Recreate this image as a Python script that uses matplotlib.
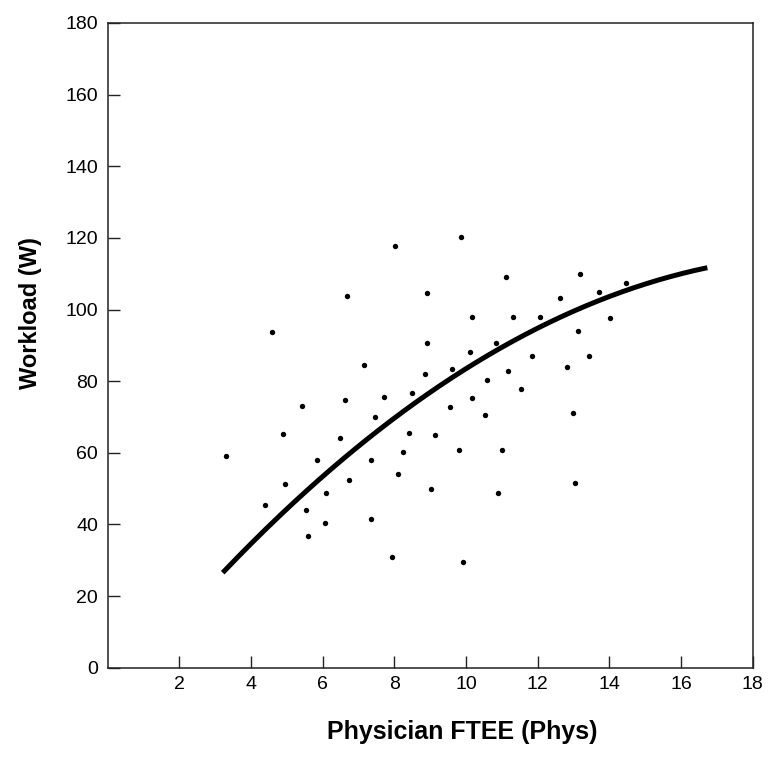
import matplotlib
matplotlib.use("Agg")
import matplotlib.pyplot as plt
import numpy as np

plt.rcParams['font.family'] = ['Liberation Sans', 'DejaVu Sans']

# Scatter data: Physician FTEE vs Workload
phys = [8.01, 6.69, 4.58, 7.15, 7.71, 6.62, 5.41, 7.46, 9.86, 11.12,
        13.18, 14.46, 8.91, 13.72, 12.63, 10.16, 11.30, 12.05, 14.02, 13.12,
        8.91, 10.83, 10.10, 11.85, 13.42, 8.85, 9.62, 11.18, 12.81, 10.59,
        11.54, 8.48, 10.17, 9.56, 10.53, 12.99, 4.88, 6.49, 3.31, 5.84,
        7.34, 8.11, 4.94, 6.73, 6.08, 4.40, 5.53, 6.07, 7.34, 5.59,
        7.94, 8.42, 9.14, 8.24, 9.80, 11.00, 9.02, 10.88, 13.05, 9.92]
workload = [117.7, 103.9, 93.8, 84.6, 75.5, 74.8, 73.1, 69.9, 120.2, 109.2,
            109.8, 107.4, 104.6, 104.9, 103.2, 97.8, 97.8, 97.8, 97.7, 94.1,
            90.7, 90.7, 88.2, 87.0, 87.0, 82.1, 83.4, 82.7, 83.9, 80.3,
            77.9, 76.8, 75.3, 72.9, 70.5, 71.0, 65.2, 64.0, 59.2, 57.9,
            57.9, 54.2, 51.3, 52.4, 48.9, 45.3, 44.1, 40.3, 41.6, 36.8,
            30.8, 65.6, 65.1, 60.3, 60.8, 60.8, 50.0, 48.7, 51.7, 29.4]

# Fitted curve (quadratic coefficients, highest power first) and its x-range
fit_coeffs = [-0.311, 12.5, -10.4]
fit_range = [3.21, 16.73]

x_ticks = [2, 4, 6, 8, 10, 12, 14, 16, 18]
y_ticks = [0, 20, 40, 60, 80, 100, 120, 140, 160, 180]

fig = plt.figure(figsize=(7.69, 7.61), dpi=100)
ax = fig.add_axes([0.140, 0.1226, 0.839, 0.8472])

ax.scatter(phys, workload, s=15, color='black', zorder=3, linewidths=0)
xf = np.linspace(fit_range[0], fit_range[1], 200)
ax.plot(xf, np.polyval(fit_coeffs, xf), color='black', lw=3.6,
        solid_capstyle='butt', zorder=4)

ax.set_xlim(0, 18)
ax.set_ylim(0, 180)
ax.set_xticks(x_ticks)
ax.set_yticks(y_ticks)
ax.set_xticklabels([str(t) for t in x_ticks])
ax.set_yticklabels([str(t) for t in y_ticks])

for s in ax.spines.values():
    s.set_linewidth(1.1)
    s.set_color('#222222')

ax.tick_params(axis='both', direction='in', length=8.5, width=1.0,
               labelsize=14, color='#222222', top=False, right=False)
ax.tick_params(axis='x', pad=6)
ax.tick_params(axis='y', pad=7)

ax.set_xlabel('Physician FTEE (Phys)', fontsize=18, fontweight='bold')
ax.set_ylabel('Workload (W)', fontsize=17, fontweight='bold')
ax.xaxis.set_label_coords(0.549, -0.1)
ax.yaxis.set_label_coords(-0.119, 0.55)
ax.xaxis.label.set_va('center')
ax.yaxis.label.set_va('center')

fig.savefig('out.png', dpi=100)
